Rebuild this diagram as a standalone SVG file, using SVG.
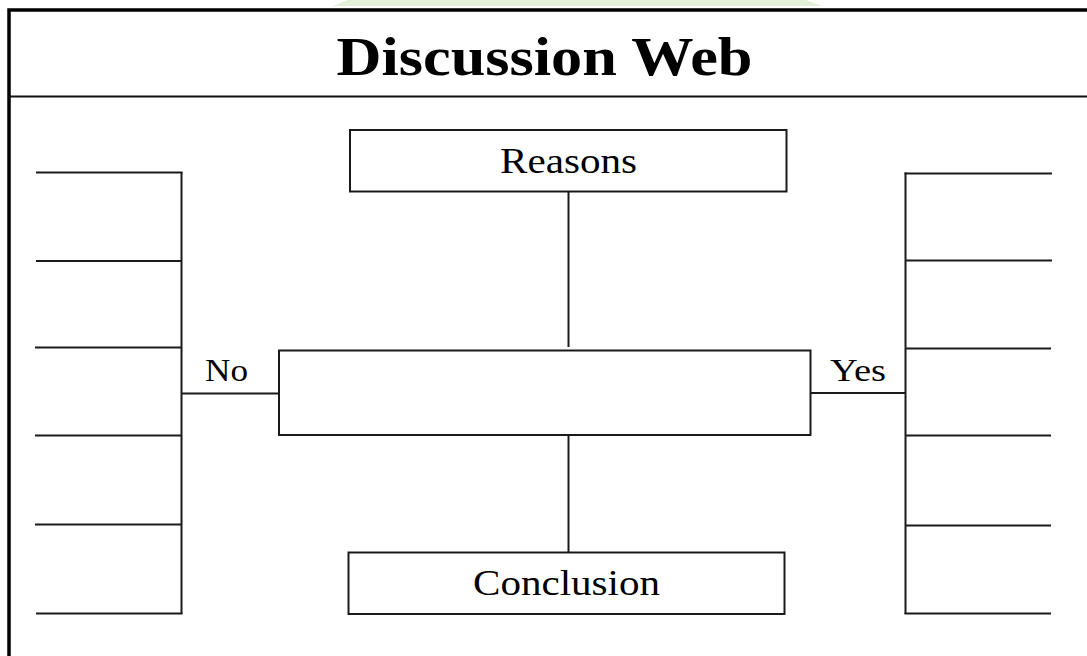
<svg xmlns="http://www.w3.org/2000/svg" width="1087" height="656" viewBox="0 0 1087 656">
  <style>
    .ln { stroke: #1a1a1a; stroke-width: 2; fill: none; }
    .box { stroke: #1a1a1a; stroke-width: 2; fill: #ffffff; }
    .lbl { font-family: "Liberation Serif", "Times New Roman", serif; fill: #000; }
  </style>
  <rect x="0" y="0" width="1087" height="656" fill="#ffffff"/>
  <polygon points="333,6 348,0 806,0 822,6" fill="#e4efd9"/>
  <g id="frame">
    <path d="M9,658 V10 H1090" stroke="#000" stroke-width="3.5" fill="none"/>
    <line x1="9" y1="96.5" x2="1087" y2="96.5" stroke="#111" stroke-width="2"/>
  </g>
  <g id="title">
    <text class="lbl" x="544.5" y="75" font-size="55" font-weight="bold" text-anchor="middle" textLength="416" lengthAdjust="spacingAndGlyphs">Discussion Web</text>
  </g>
  <g id="connectors">
    <line class="ln" x1="568.5" y1="192" x2="568.5" y2="347"/>
    <line class="ln" x1="568.5" y1="435" x2="568.5" y2="552"/>
    <line class="ln" x1="181.5" y1="393.5" x2="279" y2="393.5"/>
    <line class="ln" x1="810.5" y1="393" x2="905.5" y2="393"/>
  </g>
  <g id="no-list">
    <line class="ln" x1="181.5" y1="172" x2="181.5" y2="614"/>
    <line class="ln" x1="36" y1="172.5" x2="182.5" y2="172.5"/>
    <line class="ln" x1="36" y1="261" x2="181.5" y2="261"/>
    <line class="ln" x1="35" y1="347.5" x2="181.5" y2="347.5"/>
    <line class="ln" x1="35" y1="435.5" x2="181.5" y2="435.5"/>
    <line class="ln" x1="35" y1="524.5" x2="181.5" y2="524.5"/>
    <line class="ln" x1="36" y1="613.5" x2="182.5" y2="613.5"/>
  </g>
  <g id="yes-list">
    <line class="ln" x1="905.5" y1="172.5" x2="905.5" y2="614"/>
    <line class="ln" x1="904.5" y1="173.5" x2="1052" y2="173.5"/>
    <line class="ln" x1="905.5" y1="260.5" x2="1052" y2="260.5"/>
    <line class="ln" x1="905.5" y1="348.5" x2="1051" y2="348.5"/>
    <line class="ln" x1="905.5" y1="435.5" x2="1051" y2="435.5"/>
    <line class="ln" x1="905.5" y1="525.5" x2="1051" y2="525.5"/>
    <line class="ln" x1="904.5" y1="613.5" x2="1051" y2="613.5"/>
  </g>
  <g id="label-no">
    <text class="lbl" x="226.5" y="381" font-size="31" text-anchor="middle" textLength="43" lengthAdjust="spacingAndGlyphs">No</text>
  </g>
  <g id="label-yes">
    <text class="lbl" x="858" y="381" font-size="31" text-anchor="middle" textLength="56" lengthAdjust="spacingAndGlyphs">Yes</text>
  </g>
  <g id="reasons">
    <rect class="box" x="350" y="130" width="436.5" height="61.5"/>
    <text class="lbl" x="568.5" y="173" font-size="35" text-anchor="middle" textLength="137" lengthAdjust="spacingAndGlyphs">Reasons</text>
  </g>
  <g id="topic">
    <rect class="box" x="279" y="350.5" width="531.5" height="84.5"/>
  </g>
  <g id="conclusion">
    <rect class="box" x="348.5" y="552.5" width="436" height="61.5"/>
    <text class="lbl" x="566.5" y="595" font-size="35" text-anchor="middle" textLength="187" lengthAdjust="spacingAndGlyphs">Conclusion</text>
  </g>
</svg>
